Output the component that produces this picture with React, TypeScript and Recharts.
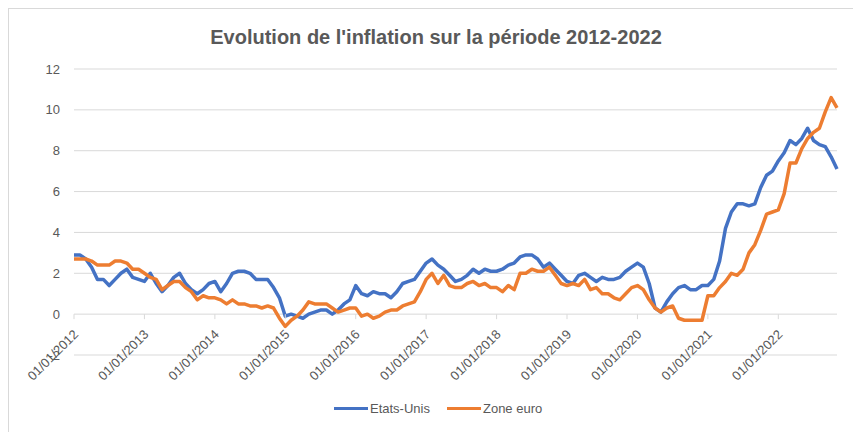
import React from 'react';
import { LineChart, Line, XAxis, YAxis, CartesianGrid, Legend } from 'recharts';

// ---- Data (monthly, Jan 2012 .. Nov 2022) ----
const years = [2012, 2013, 2014, 2015, 2016, 2017, 2018, 2019, 2020, 2021, 2022];

const usInflation = [
  2.9, 2.9, 2.7, 2.3, 1.7, 1.7, 1.4, 1.7, 2.0, 2.2, 1.8, 1.7,
  1.6, 2.0, 1.5, 1.1, 1.4, 1.8, 2.0, 1.5, 1.2, 1.0, 1.2, 1.5,
  1.6, 1.1, 1.5, 2.0, 2.1, 2.1, 2.0, 1.7, 1.7, 1.7, 1.3, 0.8,
  -0.1, 0.0, -0.1, -0.2, 0.0, 0.1, 0.2, 0.2, 0.0, 0.2, 0.5, 0.7,
  1.4, 1.0, 0.9, 1.1, 1.0, 1.0, 0.8, 1.1, 1.5, 1.6, 1.7, 2.1,
  2.5, 2.7, 2.4, 2.2, 1.9, 1.6, 1.7, 1.9, 2.2, 2.0, 2.2, 2.1,
  2.1, 2.2, 2.4, 2.5, 2.8, 2.9, 2.9, 2.7, 2.3, 2.5, 2.2, 1.9,
  1.6, 1.5, 1.9, 2.0, 1.8, 1.6, 1.8, 1.7, 1.7, 1.8, 2.1, 2.3,
  2.5, 2.3, 1.5, 0.3, 0.1, 0.6, 1.0, 1.3, 1.4, 1.2, 1.2, 1.4,
  1.4, 1.7, 2.6, 4.2, 5.0, 5.4, 5.4, 5.3, 5.4, 6.2, 6.8, 7.0,
  7.5, 7.9, 8.5, 8.3, 8.6, 9.1, 8.5, 8.3, 8.2, 7.7, 7.1,
];

const euroInflation = [
  2.7, 2.7, 2.7, 2.6, 2.4, 2.4, 2.4, 2.6, 2.6, 2.5, 2.2, 2.2,
  2.0, 1.8, 1.7, 1.2, 1.4, 1.6, 1.6, 1.3, 1.1, 0.7, 0.9, 0.8,
  0.8, 0.7, 0.5, 0.7, 0.5, 0.5, 0.4, 0.4, 0.3, 0.4, 0.3, -0.2,
  -0.6, -0.3, -0.1, 0.2, 0.6, 0.5, 0.5, 0.5, 0.3, 0.1, 0.2, 0.3,
  0.3, -0.1, 0.0, -0.2, -0.1, 0.1, 0.2, 0.2, 0.4, 0.5, 0.6, 1.1,
  1.7, 2.0, 1.5, 1.9, 1.4, 1.3, 1.3, 1.5, 1.6, 1.4, 1.5, 1.3,
  1.3, 1.1, 1.4, 1.2, 2.0, 2.0, 2.2, 2.1, 2.1, 2.3, 1.9, 1.5,
  1.4, 1.5, 1.4, 1.7, 1.2, 1.3, 1.0, 1.0, 0.8, 0.7, 1.0, 1.3,
  1.4, 1.2, 0.7, 0.3, 0.1, 0.3, 0.4, -0.2, -0.3, -0.3, -0.3, -0.3,
  0.9, 0.9, 1.3, 1.6, 2.0, 1.9, 2.2, 3.0, 3.4, 4.1, 4.9, 5.0,
  5.1, 5.9, 7.4, 7.4, 8.1, 8.6, 8.9, 9.1, 9.9, 10.6, 10.1,
];

const monthCodes = ['01', '02', '03', '04', '05', '06', '07', '08', '09', '10', '11', '12'];
const yTicks = [-2, 0, 2, 4, 6, 8, 10, 12];

const seriesNames = { us: 'Etats-Unis', euro: 'Zone euro' };
const TITLE = "Evolution de l'inflation sur la période 2012-2022";

// categories: "01/MM/YYYY"
const dates: string[] = [];
years.forEach((y) => monthCodes.forEach((m) => dates.push(`01/${m}/${y}`)));

const data = usInflation.map((v, i) => ({
  date: dates[i],
  us: v,
  euro: euroInflation[i],
}));

// ---- Layout ----
const W = 853;
const H = 432;
const PLOT_LEFT = 74;
const PLOT_RIGHT = 837;
const PLOT_TOP = 69;
const PLOT_BOTTOM = 355;
const X_AXIS_H = 1;
const Y_MIN = -2;
const Y_MAX = 12;
const ZERO_Y = PLOT_TOP + ((Y_MAX - 0) / (Y_MAX - Y_MIN)) * (PLOT_BOTTOM - PLOT_TOP);

const FONT = '"Liberation Sans", Arial, sans-serif';
const TEXT = '#595959';
const GRID = '#D9D9D9';
const BLUE = '#4472C4';
const ORANGE = '#ED7D31';

const XTick = (props: any) => {
  const { x, payload } = props;
  const ax = x + 5;
  const ay = ZERO_Y + 21;
  return (
    <g>
      <line x1={x} x2={x} y1={ZERO_Y} y2={ZERO_Y + 5} stroke={GRID} strokeWidth={1} />
      <text
        x={ax}
        y={ay}
        textAnchor="end"
        transform={`rotate(-45, ${ax}, ${ay})`}
        fill={TEXT}
        fontSize={13}
        fontFamily={FONT}
      >
        {payload.value}
      </text>
    </g>
  );
};

const LegendContent = (props: any) => {
  const { payload } = props;
  return (
    <div style={{ display: 'flex', alignItems: 'center', fontFamily: FONT, fontSize: 13, color: TEXT }}>
      {(payload || []).map((p: any, i: number) => (
        <div key={i} style={{ display: 'flex', alignItems: 'center', marginRight: 17 }}>
          <span style={{ display: 'inline-block', width: 34, height: 3.5, background: p.color, marginRight: 2 }} />
          <span>{p.value}</span>
        </div>
      ))}
    </div>
  );
};

export default function App() {
  return (
    <div style={{ position: 'absolute', left: 0, top: 0, width: W, height: H, background: '#fff', overflow: 'hidden' }}>
      <div
        style={{
          position: 'absolute',
          left: 8,
          top: 8,
          width: W - 8,
          height: H - 8,
          borderLeft: `1px solid ${GRID}`,
          borderTop: `1px solid ${GRID}`,
          boxSizing: 'border-box',
        }}
      />
      <div
        style={{
          position: 'absolute',
          left: 136,
          top: 25,
          width: 600,
          textAlign: 'center',
          fontFamily: FONT,
          fontWeight: 700,
          fontSize: 20,
          lineHeight: '24px',
          color: TEXT,
        }}
      >
        {TITLE}
      </div>
      <div style={{ position: 'absolute', left: 0, top: 0 }}>
        <LineChart
          width={W}
          height={H}
          data={data}
          margin={{ top: PLOT_TOP, right: W - PLOT_RIGHT, left: 0, bottom: H - PLOT_BOTTOM - X_AXIS_H }}
        >
          <CartesianGrid vertical={false} stroke={GRID} strokeWidth={1} />
          <XAxis
            dataKey="date"
            interval={11}
            height={X_AXIS_H}
            axisLine={false}
            tickLine={false}
            tick={<XTick />}
          />
          <YAxis
            width={PLOT_LEFT}
            domain={[Y_MIN, Y_MAX]}
            ticks={yTicks}
            axisLine={false}
            tickLine={false}
            tickSize={6}
            tickMargin={8}
            tick={{ fill: TEXT, fontSize: 13, fontFamily: FONT }}
          />
          <Legend
            verticalAlign="middle"
            align="center"
            layout="horizontal"
            wrapperStyle={{ top: 401, left: 334, width: 300 }}
            content={<LegendContent />}
          />
          <Line
            type="linear"
            dataKey="us"
            name={seriesNames.us}
            stroke={BLUE}
            strokeWidth={3.5}
            dot={false}
            strokeLinejoin="round"
            isAnimationActive={false}
          />
          <Line
            type="linear"
            dataKey="euro"
            name={seriesNames.euro}
            stroke={ORANGE}
            strokeWidth={3.5}
            dot={false}
            strokeLinejoin="round"
            isAnimationActive={false}
          />
        </LineChart>
      </div>
    </div>
  );
}
